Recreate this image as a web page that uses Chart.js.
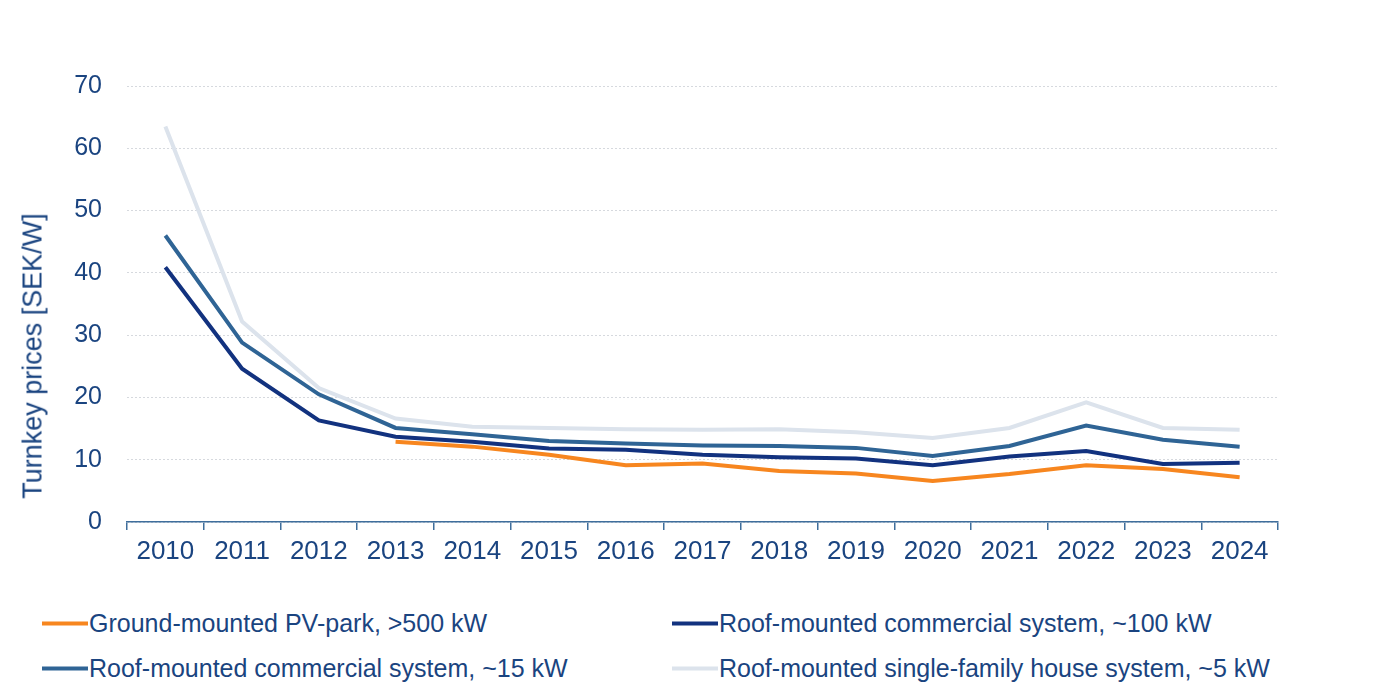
<!DOCTYPE html>
<html>
<head>
<meta charset="utf-8">
<script src="https://cdn.jsdelivr.net/npm/chart.js@4/dist/chart.umd.min.js"></script>
<style>
  html, body { margin: 0; padding: 0; background: #ffffff; }
  #wrap { position: relative; width: 1400px; height: 700px; overflow: hidden; font-family: "Liberation Sans", Arial, sans-serif; }
  #c { position: absolute; left: 0; top: 0; }
  #ytitle { position: absolute; left: 33px; top: 356px; transform: translate(-50%, -50%) rotate(-90deg); white-space: nowrap; font-size: 27px; color: #1a4480; line-height: 1; }
  .lg { position: absolute; display: flex; align-items: center; font-size: 25px; color: #1a4480; white-space: nowrap; transform: translateY(-50%); }
  .lg span.ln { display: inline-block; width: 46px; height: 4px; margin-right: 1px; }
</style>
</head>
<body>
<div id="wrap">
  <canvas id="c" width="1400" height="600"></canvas>
  <div id="ytitle">Turnkey prices [SEK/W]</div>
  <div id="legend"></div>
</div>
<script>
const years = ['2010','2011','2012','2013','2014','2015','2016','2017','2018','2019','2020','2021','2022','2023','2024'];
const groundMounted = [null, null, null, 12.9, 12.1, 10.8, 9.1, 9.4, 8.2, 7.8, 6.6, 7.7, 9.1, 8.5, 7.2];
const commercial100 = [40.9, 24.6, 16.3, 13.7, 12.9, 11.8, 11.6, 10.8, 10.4, 10.2, 9.1, 10.5, 11.4, 9.3, 9.5];
const commercial15 = [46.0, 28.8, 20.5, 15.1, 14.1, 13.0, 12.6, 12.3, 12.2, 11.9, 10.6, 12.2, 15.5, 13.2, 12.1];
const singleFamily = [63.5, 32.2, 21.5, 16.6, 15.3, 15.1, 14.9, 14.8, 14.9, 14.4, 13.5, 15.1, 19.2, 15.1, 14.8];
const seriesLabels = ['Ground-mounted PV-park, >500 kW', 'Roof-mounted commercial system, ~100 kW', 'Roof-mounted commercial system, ~15 kW', 'Roof-mounted single-family house system, ~5 kW'];
const yTicks = [0, 10, 20, 30, 40, 50, 60, 70];

const colors = ['#f7861f', '#12327f', '#2f6495', '#dce3ec'];
const textColor = '#1a4480';
const axisColor = '#3f6e9c';

const ds = [groundMounted, commercial100, commercial15, singleFamily].map((d, i) => ({
  label: seriesLabels[i],
  data: d,
  borderColor: colors[i],
  backgroundColor: colors[i],
  borderWidth: 4,
  pointRadius: 0,
  pointHoverRadius: 0,
  tension: 0,
  fill: false,
  spanGaps: false
}));

const chart = new Chart(document.getElementById('c'), {
  type: 'line',
  data: { labels: years, datasets: ds },
  options: {
    responsive: false,
    animation: false,
    devicePixelRatio: 1,
    layout: { padding: { top: 86, right: 122, left: 0, bottom: 0 } },
    plugins: { legend: { display: false }, tooltip: { enabled: false } },
    scales: {
      x: {
        type: 'category',
        offset: true,
        grid: { offset: true, drawOnChartArea: false, drawTicks: true, tickLength: 8, color: axisColor, lineWidth: 1.5 },
        border: { display: true, color: axisColor, width: 1.5 },
        ticks: { color: textColor, font: { family: '"Liberation Sans", Arial, sans-serif', size: 26 }, padding: 6, maxRotation: 0, autoSkip: false },
        afterFit: (s) => { s.height = 78; }
      },
      y: {
        min: 0, max: 70,
        afterBuildTicks: (s) => { s.ticks = yTicks.map(v => ({ value: v })); },
        grid: { color: '#d6d9de', lineWidth: 1, drawTicks: false, tickLength: 0 },
        border: { display: false, dash: [2, 2] },
        ticks: { color: textColor, font: { family: '"Liberation Sans", Arial, sans-serif', size: 25 }, padding: 25 },
        afterFit: (s) => { s.width = 127; }
      }
    }
  }
});

// HTML legend built from the chart datasets
const legend = document.getElementById('legend');
const pos = [[42, 623], [672, 623], [42, 668], [672, 668]];
chart.data.datasets.forEach((d, i) => {
  const el = document.createElement('div');
  el.className = 'lg';
  el.style.left = pos[i][0] + 'px';
  el.style.top = pos[i][1] + 'px';
  const ln = document.createElement('span');
  ln.className = 'ln';
  ln.style.background = d.borderColor;
  el.appendChild(ln);
  const t = document.createElement('span');
  t.textContent = d.label;
  el.appendChild(t);
  legend.appendChild(el);
});
</script>
</body>
</html>
